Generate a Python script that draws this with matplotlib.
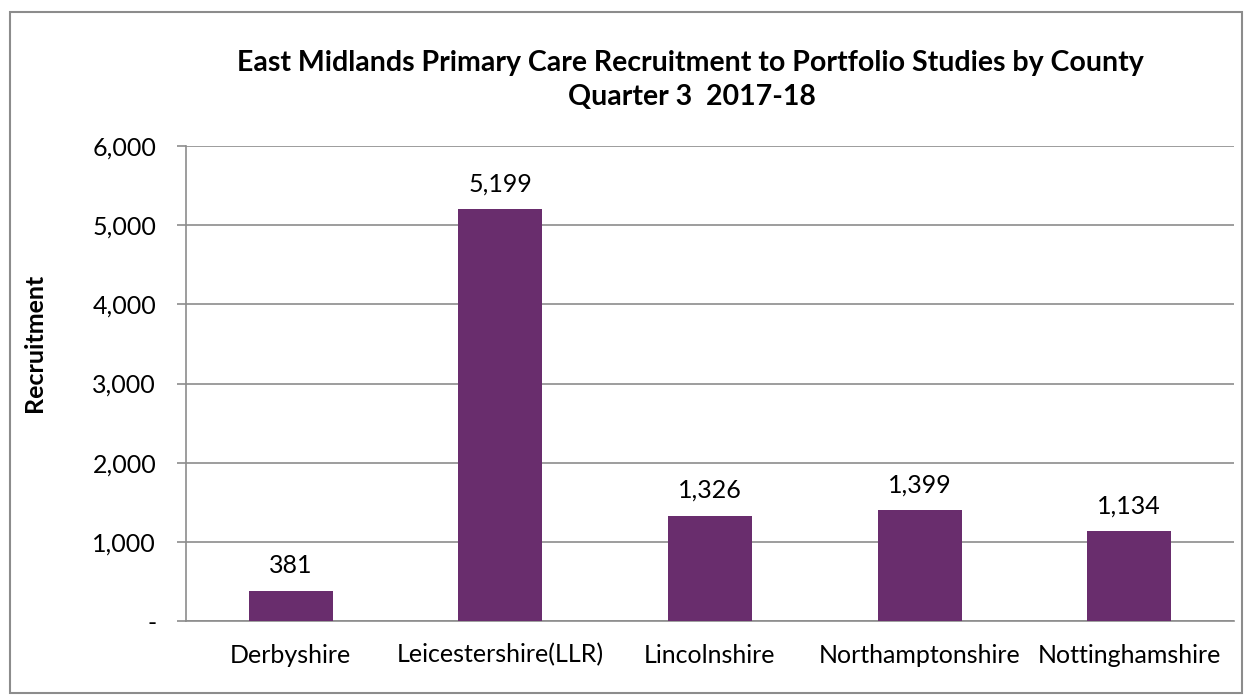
import matplotlib.pyplot as plt
from matplotlib.patches import Rectangle
from matplotlib.ticker import FuncFormatter

counties = ['Derbyshire', 'Leicestershire(LLR)', 'Lincolnshire',
            'Northamptonshire', 'Nottinghamshire']
recruitment = [381, 5199, 1326, 1399, 1134]
y_ticks = [0, 1000, 2000, 3000, 4000, 5000, 6000]

plt.rcParams['font.family'] = ['Lato', 'DejaVu Sans']

bar_color = '#692D6D'
grid_color = '#8C8C8C'

fig = plt.figure(figsize=(12.52, 6.95), dpi=100)
fig.patches.append(Rectangle((10 / 1252, 2 / 695), 1232 / 1252, 681 / 695,
                             transform=fig.transFigure, fill=False,
                             edgecolor='#8C8C8C', lw=1.5))

ax = fig.add_axes([186 / 1252, 1 - 621 / 695, 1048 / 1252, 475 / 695])
x = range(len(counties))
bars = ax.bar(x, recruitment, width=0.4, color=bar_color, zorder=3)

ax.set_xlim(-0.5, len(counties) - 0.5)
ax.set_ylim(0, 6000)
ax.set_yticks(y_ticks)
ax.yaxis.set_major_formatter(FuncFormatter(lambda v, p: '-' if v == 0 else f'{int(v):,}'))
ax.set_xticks(list(x))
ax.set_xticklabels(counties, va='baseline')
ax.tick_params(axis='x', length=0, pad=30, labelsize=18)
ax.tick_params(axis='y', length=6.5, width=1.2, color=grid_color, pad=15, labelsize=18)
ax.grid(axis='y', color=grid_color, lw=1.2, zorder=0)

for s in ['top', 'right']:
    ax.spines[s].set_visible(False)
ax.spines['left'].set_color(grid_color)
ax.spines['bottom'].set_color(grid_color)
ax.spines['left'].set_linewidth(1.2)
ax.spines['bottom'].set_linewidth(1.2)

# value labels above bars
for b, v in zip(bars, recruitment):
    ax.annotate(f'{v:,}', (b.get_x() + b.get_width() / 2, v),
                xytext=(0, 13), textcoords='offset points',
                ha='center', va='baseline', fontsize=18)

fig.text(35 / 1252, 1 - 343 / 695, 'Recruitment', rotation=90,
         ha='center', va='center', fontsize=18, fontweight='bold')

fig.text(690 / 1252, 1 - 63 / 695,
         'East Midlands Primary Care Recruitment to Portfolio Studies by County',
         ha='center', va='center', fontsize=20.5, fontweight='bold')
fig.text(692 / 1252, 1 - 97 / 695, 'Quarter 3  2017-18',
         ha='center', va='center', fontsize=20.5, fontweight='bold')

fig.savefig('out.png', dpi=100)
